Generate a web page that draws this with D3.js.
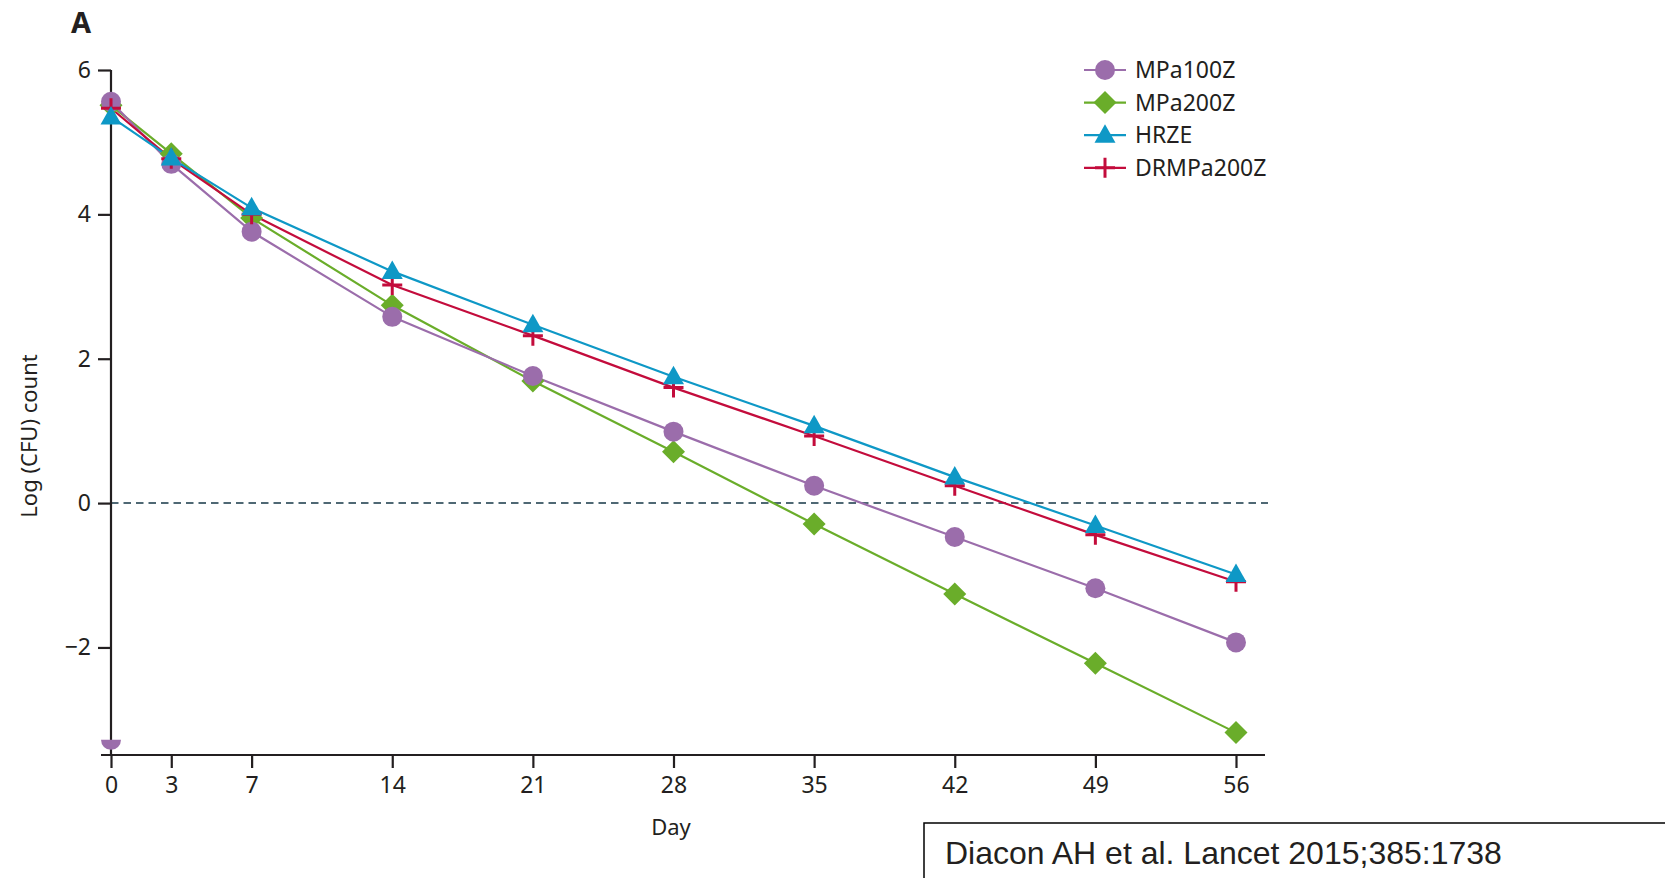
<!DOCTYPE html>
<html>
<head>
<meta charset="utf-8">
<script src="https://cdn.jsdelivr.net/npm/d3@7"></script>
<style>
  body { margin: 0; background: #fff; }
  svg text { font-family: "Noto Sans", "Open Sans", sans-serif; fill: #231f20; }
</style>
</head>
<body>
<div id="graphic"></div>
<script>
const days = [0, 3, 7, 14, 21, 28, 35, 42, 49, 56]
const yTicks = [6, 4, 2, 0, -2]
const seriesNames = ["MPa100Z", "MPa200Z", "HRZE", "DRMPa200Z"]
const mpa100z = [5.56, 4.70, 3.76, 2.58, 1.76, 0.99, 0.24, -0.47, -1.18, -1.93]
const mpa200z = [5.51, 4.84, 3.95, 2.74, 1.69, 0.71, -0.29, -1.26, -2.22, -3.18]
const hrze = [5.35, 4.78, 4.09, 3.21, 2.47, 1.75, 1.07, 0.36, -0.31, -0.99]
const drmpa200z = [5.47, 4.77, 4.00, 3.02, 2.32, 1.60, 0.93, 0.24, -0.44, -1.09]
// stray half marker sitting on the x axis at day 0
const strayDay = 0, strayValue = -3.28

const colors = { MPa100Z: "#9b6dab", MPa200Z: "#6aad2a", HRZE: "#0e98c6", DRMPa200Z: "#c30c3c" }
const ink = "#231f20"

const W = 1665, H = 878
const svg = d3.select("#graphic").append("svg").attr("width", W).attr("height", H)

const x = d3.scaleLinear().domain([0, 56]).range([111, 1236])
const y = d3.scaleLinear().domain([-3.49, 6]).range([755, 70])

// panel letter
svg.append("text").attr("x", 71).attr("y", 33)
    .style("font-size", "29px").style("font-weight", "bold").text("A")

// zero reference
svg.append("line")
    .attr("x1", x(0)).attr("x2", 1268).attr("y1", y(0)).attr("y2", y(0))
    .attr("stroke", "#4f6874").attr("stroke-width", 2).attr("stroke-dasharray", "7.5,5")

// axes
const yAxis = svg.append("g").attr("transform", `translate(${x(0)},0)`)
    .call(d3.axisLeft(y).tickValues(yTicks).tickSize(13).tickPadding(7)
        .tickFormat(d => d < 0 ? "\u2212" + Math.abs(d) : d))
yAxis.select(".domain").attr("d", `M0,${y(6)}V755`)
const xAxis = svg.append("g").attr("transform", "translate(0,755)")
    .call(d3.axisBottom(x).tickValues(days).tickSize(13).tickPadding(9))
xAxis.select(".domain").attr("d", "M101,0H1265")
svg.selectAll(".domain").attr("stroke", ink).attr("stroke-width", 2.2)
svg.selectAll(".tick line").attr("stroke", ink).attr("stroke-width", 2.2)
svg.selectAll(".tick text").style("font-size", "23px").attr("fill", ink)
    .style("font-family", "'Noto Sans', sans-serif")

svg.append("text").attr("x", 671).attr("y", 835).attr("text-anchor", "middle")
    .style("font-size", "22px").text("Day")
svg.append("text").attr("transform", "translate(37,436)rotate(-90)").attr("text-anchor", "middle")
    .style("font-size", "22px").text("Log (CFU) count")

// markers
function marker(g, name) {
    const c = colors[name]
    if (name === "MPa100Z") g.append("circle").attr("r", 10).attr("fill", c)
    else if (name === "MPa200Z") g.append("path").attr("d", "M0,-11.5L11.5,0L0,11.5L-11.5,0Z").attr("fill", c)
    else if (name === "HRZE") g.append("path").attr("d", "M0,-11L10.5,7.5L-10.5,7.5Z").attr("fill", c)
    else {
        g.append("path").attr("d", "M-10,0H10M0,-10V10")
            .attr("stroke", c).attr("stroke-width", 3).attr("fill", "none")
    }
}

const valuesByName = { MPa100Z: mpa100z, MPa200Z: mpa200z, HRZE: hrze, DRMPa200Z: drmpa200z }
const line = d3.line().x(d => x(d[0])).y(d => y(d[1]))

// draw order so the overlaps match: green, purple, red, blue
const drawOrder = ["MPa200Z", "MPa100Z", "DRMPa200Z", "HRZE"]
drawOrder.forEach(name => {
    const pts = days.map((d, i) => [d, valuesByName[name][i]])
    svg.append("path").datum(pts).attr("d", line)
        .attr("fill", "none").attr("stroke", colors[name]).attr("stroke-width", 2.2)
})
drawOrder.forEach(name => {
    const pts = days.map((d, i) => [d, valuesByName[name][i]])
    svg.append("g").selectAll("g").data(pts).join("g")
        .attr("transform", d => `translate(${x(d[0])},${y(d[1])})`)
        .each(function () { marker(d3.select(this), name) })
})

// half circle at the bottom of the y axis
svg.append("path")
    .attr("transform", `translate(${x(strayDay)},${y(strayValue)})`)
    .attr("d", d3.arc()({ innerRadius: 0, outerRadius: 10, startAngle: Math.PI / 2, endAngle: Math.PI * 1.5 }))
    .attr("fill", colors.MPa100Z)

// legend
const legend = svg.append("g").attr("transform", "translate(1084,70)")
seriesNames.forEach((name, i) => {
    const row = legend.append("g").attr("transform", `translate(0,${i * 32.6})`)
    row.append("line").attr("x1", 0).attr("x2", 42).attr("stroke", colors[name]).attr("stroke-width", 2.2)
    const m = row.append("g").attr("transform", "translate(21,0)")
    marker(m, name)
    row.append("text").attr("x", 51).attr("y", 0).attr("dy", "0.36em")
        .style("font-size", "23px").text(name)
})

// citation box
svg.append("rect").attr("x", 924).attr("y", 823).attr("width", 760).attr("height", 80)
    .attr("fill", "#fff").attr("stroke", "#000").attr("stroke-width", 1.5)
svg.append("text").attr("x", 945).attr("y", 864)
    .style("font-family", "'Liberation Sans', Arial, sans-serif").style("font-size", "32px")
    .attr("fill", "#000").text("Diacon AH et al. Lancet 2015;385:1738")
</script>
</body>
</html>
